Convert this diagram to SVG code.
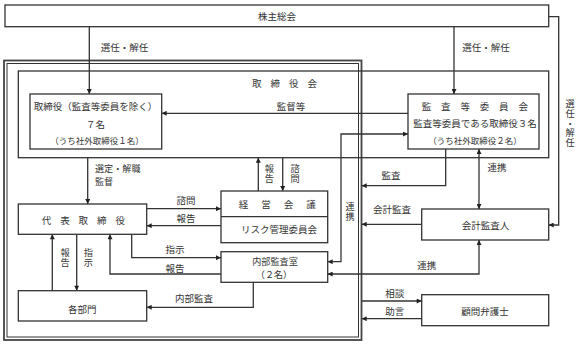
<svg xmlns="http://www.w3.org/2000/svg" width="581" height="345" viewBox="0 0 581 345">
<defs>
<style>
.box{fill:#fff;stroke:#333;stroke-width:1.3}
.frame{fill:none;stroke:#333;stroke-width:1.3}
.ln{fill:none;stroke:#333;stroke-width:1.3}
.arr{marker-end:url(#ah)}
.dbl{marker-start:url(#ah);marker-end:url(#ah)}
text{font-family:"Noto Sans CJK JP","Noto Sans CJK SC",sans-serif;font-size:9.5px;fill:#333;text-anchor:middle;dominant-baseline:central}
.sm{font-size:8.5px}
.t2{font-size:9.1px}
.vt{writing-mode:vertical-rl;font-size:9.2px;letter-spacing:0.6px}
</style>
<marker id="ah" viewBox="0 0 6 6" refX="6" refY="3" markerWidth="6" markerHeight="5" orient="auto-start-reverse" markerUnits="userSpaceOnUse"><path d="M0,0 L6,3 L0,6 z" fill="#222"/></marker>
</defs>
<rect width="581" height="345" fill="#fff"/>

<g id="frame">
<rect x="4" y="60.5" width="357.5" height="279.5" fill="none" stroke="#444" stroke-width="1.8"/>
<rect x="7" y="63.5" width="351.5" height="273.5" fill="none" stroke="#333" stroke-width="1"/>
</g>
<g id="board">
<rect class="frame" x="18.3" y="71" width="530.4" height="86.7"/>
<text x="256.7 275.2 293.7 312.2" y="83">取締役会</text>
</g>

<g id="connectors">
<line class="ln arr" x1="89.3" y1="26.7" x2="89.3" y2="94"/>
<line class="ln arr" x1="454" y1="26.7" x2="454" y2="94"/>
<polyline class="ln arr" points="548.7,16.7 558.7,16.7 558.7,225 548.7,225"/>
<line class="ln arr" x1="408" y1="113.3" x2="161.7" y2="113.3"/>
<line class="ln arr" x1="87.7" y1="157.7" x2="87.7" y2="204"/>
<line class="ln arr" x1="258.3" y1="191" x2="258.3" y2="157.7"/>
<line class="ln arr" x1="282.7" y1="157.7" x2="282.7" y2="191"/>
<line class="ln arr" x1="146.7" y1="208.7" x2="221" y2="208.7"/>
<line class="ln arr" x1="221" y1="225.7" x2="146.7" y2="225.7"/>
<polyline class="ln arr" points="131.7,234.3 131.7,257.7 221,257.7"/>
<polyline class="ln arr" points="221,274 110,274 110,234.3"/>
<line class="ln arr" x1="52.3" y1="290.7" x2="52.3" y2="234.3"/>
<line class="ln arr" x1="76.7" y1="234.3" x2="76.7" y2="290.7"/>
<polyline class="ln arr" points="253.3,282.3 253.3,307.3 146.7,307.3"/>
<polyline class="ln dbl" points="327.7,261.7 341,261.7 341,134 408,134"/>
<polyline class="ln arr" points="445.7,149 445.7,185.7 361.7,185.7"/>
<line class="ln dbl" x1="479" y1="149" x2="479" y2="209"/>
<line class="ln arr" x1="421.7" y1="224.3" x2="361.7" y2="224.3"/>
<polyline class="ln dbl" points="479,240 479,274 327.7,274"/>
<line class="ln arr" x1="361.7" y1="301" x2="421.7" y2="301"/>
<line class="ln arr" x1="421.7" y1="318.7" x2="361.7" y2="318.7"/>
</g>

<g id="labels">
<text x="124.5" y="47">選任・解任</text>
<text x="486" y="47">選任・解任</text>
<text class="vt" x="570" y="123.5">選任・解任</text>
<text x="291" y="105.5">監督等</text>
<text class="t2" x="95" y="167.5" style="text-anchor:start">選定・解職</text>
<text class="t2" x="95" y="181" style="text-anchor:start">監督</text>
<text class="vt" x="269.3" y="173.5">報告</text>
<text class="vt" x="295" y="173.5">諮問</text>
<text x="186" y="200">諮問</text>
<text x="186" y="217.7">報告</text>
<text x="175" y="249.3">指示</text>
<text x="175" y="267.7">報告</text>
<text class="vt" x="65" y="258">報告</text>
<text class="vt" x="88.3" y="258">指示</text>
<text x="194" y="298.3">内部監査</text>
<text x="391" y="175">監査</text>
<text x="497" y="166.7">連携</text>
<text class="vt" x="350" y="211.5">連携</text>
<text x="392" y="209.3">会計監査</text>
<text x="426.7" y="265">連携</text>
<text x="394.7" y="293.3">相談</text>
<text x="394.7" y="310.7">助言</text>
</g>

<g id="shareholders">
<rect class="box" x="5" y="5" width="543.7" height="21.7"/>
<text x="277" y="16">株主総会</text>
</g>

<g id="directors">
<rect class="box" x="30" y="94" width="131.7" height="55"/>
<text x="95.5" y="105.7">取締役（監査等委員を除く）</text>
<text x="95.5" y="124">７名</text>
<text class="sm" x="97" y="140">（うち社外取締役１名）</text>
</g>

<g id="audit-committee">
<rect class="box" x="408" y="94" width="131" height="55"/>
<text x="426.5 445.8 465.2 484.5 503.8 523.2" y="105.7">監査等委員会</text>
<text x="475" y="123.3">監査等委員である取締役３名</text>
<text class="sm" x="475" y="140">（うち社外取締役２名）</text>
</g>

<g id="representative">
<rect class="box" x="18.3" y="204" width="128.4" height="30.3"/>
<text x="46.5 64.9 83.3 101.8 120.2" y="220">代表取締役</text>
</g>

<g id="management-meeting">
<rect class="box" x="221" y="191" width="106.7" height="51.7"/>
<line class="ln" x1="221" y1="216.7" x2="327.7" y2="216.7"/>
<text x="243.5 266 288.5 311" y="204">経営会議</text>
<text x="279" y="229.3">リスク管理委員会</text>
</g>

<g id="internal-audit">
<rect class="box" x="221" y="251.7" width="106.7" height="30.6"/>
<text class="t2" x="275" y="260.5">内部監査室</text>
<text class="t2" x="274" y="274">（２名）</text>
</g>

<g id="departments">
<rect class="box" x="18.3" y="290.7" width="128.4" height="30.3"/>
<text x="82.3" y="309.3">各部門</text>
</g>

<g id="accounting-auditor">
<rect class="box" x="421.7" y="209" width="127" height="31"/>
<text x="485.5" y="225">会計監査人</text>
</g>

<g id="lawyer">
<rect class="box" x="421.7" y="294.7" width="127" height="31"/>
<text x="485" y="310.7">顧問弁護士</text>
</g>
</svg>
